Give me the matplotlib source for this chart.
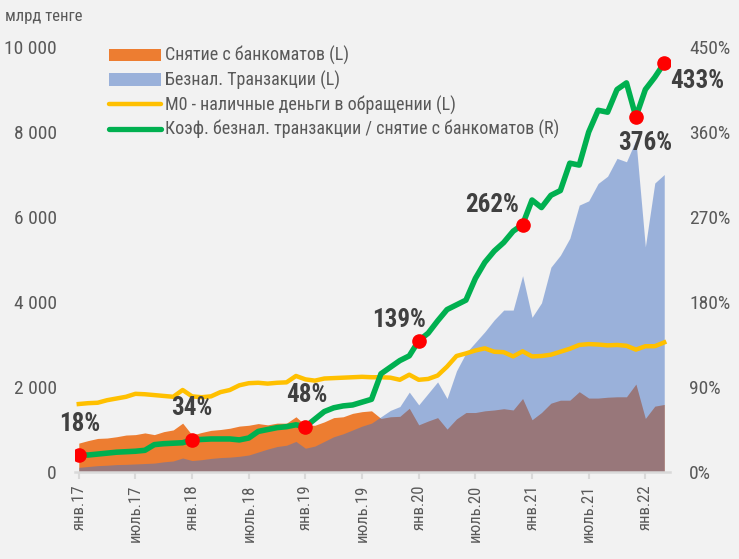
import numpy as np
import matplotlib
matplotlib.use("Agg")
import matplotlib.pyplot as plt
from matplotlib.patches import Patch
from matplotlib.lines import Line2D

plt.rcParams['font.family'] = ['Roboto Condensed', 'DejaVu Sans']

# monthly data, Jan 2017 .. Mar 2022
months = np.arange(63)
tick_pos = [0, 6, 12, 18, 24, 30, 36, 42, 48, 54, 60]
tick_labels = ["янв.17", "июль.17", "янв.18", "июль.18", "янв.19", "июль.19",
               "янв.20", "июль.20", "янв.21", "июль.21", "янв.22"]

atm = [680, 740, 790, 800, 830, 870, 880, 920, 880, 950, 990, 1150,
       870, 930, 980, 1000, 1030, 1080, 1100, 1140, 1110, 1150, 1150, 1300,
       1100, 1100, 1180, 1280, 1300, 1380, 1420, 1440, 1260, 1300, 1310, 1500,
       1110, 1200, 1280, 1010, 1250, 1400, 1400, 1440, 1460, 1490, 1460, 1730,
       1230, 1400, 1620, 1690, 1690, 1890, 1740, 1740, 1760, 1770, 1770, 2070,
       1260, 1550, 1590]

# безналичные транзакции, млрд тенге
noncash = [110, 130, 150, 160, 175, 180, 190, 200, 210, 240, 260, 330,
           270, 290, 320, 340, 350, 370, 400, 470, 540, 600, 630, 720,
           560, 610, 720, 830, 900, 990, 1080, 1150, 1300, 1450, 1540, 1880,
           1580, 1850, 2120, 1730, 2380, 2800, 3050, 3300, 3580, 3810, 3810, 4620,
           3640, 3980, 4820, 5100, 5500, 6280, 6380, 6790, 6960, 7380, 7300, 7810,
           5300, 6800, 7000]

# M0 - наличные деньги в обращении, млрд тенге
m0 = [1600, 1620, 1630, 1690, 1730, 1770, 1840, 1830, 1810, 1790, 1770, 1930,
      1780, 1760, 1780, 1880, 1930, 2040, 2090, 2100, 2080, 2100, 2110, 2260,
      2180, 2150, 2200, 2210, 2220, 2230, 2240, 2230, 2230, 2220, 2170, 2290,
      2170, 2190, 2270, 2480, 2730, 2790, 2860, 2910, 2830, 2820, 2720, 2840,
      2720, 2730, 2760, 2830, 2900, 2990, 3010, 3000, 2980, 2990, 2970, 2880,
      2960, 2960, 3050]

ratio = [18, 18, 19, 20, 21, 21.5, 22, 23, 29, 30, 30.5, 31,
         34, 34.5, 35, 35, 35, 34, 36, 43, 45, 47, 48, 50,
         48, 56, 64, 68, 70, 71, 74, 77, 104, 111, 118, 123,
         139, 147, 160, 172, 177, 182, 205, 222, 234, 243, 255, 262,
         288, 280, 293, 298, 327, 325, 360, 383, 381, 405, 412, 376,
         405, 418, 433]

# highlighted points: index, text, offset in points
marks = [(0, "18%", (1, 22)), (12, "34%", (0, 23)), (24, "48%", (1, 23)),
         (36, "139%", (-14, 15)), (47, "262%", (-22, 14)),
         (59, "376%", (7, -19)), (62, "433%", (24, -13))]

bg = '#f2f2f2'
grey = '#595959'
fig = plt.figure(figsize=(7.39, 5.59), dpi=100, facecolor=bg)
ax = fig.add_axes([0.1015, 0.1556, 0.805, 0.7603])
ax.set_facecolor(bg)

ax.fill_between(months, 0, atm, color='#ED7D31', lw=0, zorder=1)
ax.fill_between(months, 0, noncash, color='#4472C4', alpha=0.5, lw=0, zorder=2)
ax.plot(months, m0, color='#FFC000', lw=3.2, solid_joinstyle='round', zorder=3)

ax.set_xlim(-0.4, 62.6)
ax.set_ylim(0, 10000)
ax.set_yticks([0, 2000, 4000, 6000, 8000, 10000])
ax.set_yticklabels(["0", "2 000", "4 000", "6 000", "8 000", "10 000"])
ax.set_xticks(tick_pos)
ax.set_xticklabels(tick_labels, rotation=90)
ax.tick_params(axis='y', length=0, labelsize=14, labelcolor=grey, pad=13)
ax.tick_params(axis='x', length=5, width=1.5, color='#d9d9d9', labelsize=12,
               labelcolor=grey, pad=4)
for s in ['top', 'right', 'left']:
    ax.spines[s].set_visible(False)
ax.spines['bottom'].set_color('#d9d9d9')
ax.spines['bottom'].set_linewidth(1.8)

ax2 = ax.twinx()
ax2.plot(months, ratio, color='#00B050', lw=4, solid_joinstyle='round',
         solid_capstyle='round', zorder=4)
for i, txt, off in marks:
    ax2.plot(months[i], ratio[i], 'o', color='#FF0000', ms=9.5, zorder=5)
    ax2.annotate(txt, (months[i], ratio[i]), xytext=off, textcoords='offset points',
                 ha='center', va='center', fontsize=18, fontweight='bold',
                 color='#404040', zorder=6)
ax2.set_ylim(0, 450)
ax2.set_yticks([0, 90, 180, 270, 360, 450])
ax2.set_yticklabels(["0%", "90%", "180%", "270%", "360%", "450%"])
ax2.tick_params(axis='y', length=0, labelsize=14, labelcolor=grey, pad=14)
for s in ['top', 'right', 'left', 'bottom']:
    ax2.spines[s].set_visible(False)

handles = [Patch(color='#ED7D31', lw=0),
           Patch(color='#4472C4', alpha=0.5, lw=0),
           Line2D([], [], color='#FFC000', lw=3.2, solid_capstyle='round'),
           Line2D([], [], color='#00B050', lw=3.8, solid_capstyle='round')]
labels = ["Снятие с банкоматов (L)", "Безнал. Транзакции (L)",
          "M0 - наличные деньги в обращении (L)",
          "Коэф. безнал. транзакции / снятие с банкоматов (R)"]
leg = ax2.legend(handles, labels, loc='upper left', bbox_to_anchor=(0.03, 1.04),
                 frameon=False, fontsize=13, labelcolor=grey, handlelength=2.9,
                 handletextpad=0.2, labelspacing=0.3)

fig.text(5 / 739, 1 - 17 / 559, "млрд тенге", fontsize=12, color=grey, va='center')

fig.savefig("out.png", dpi=100, facecolor=bg)
